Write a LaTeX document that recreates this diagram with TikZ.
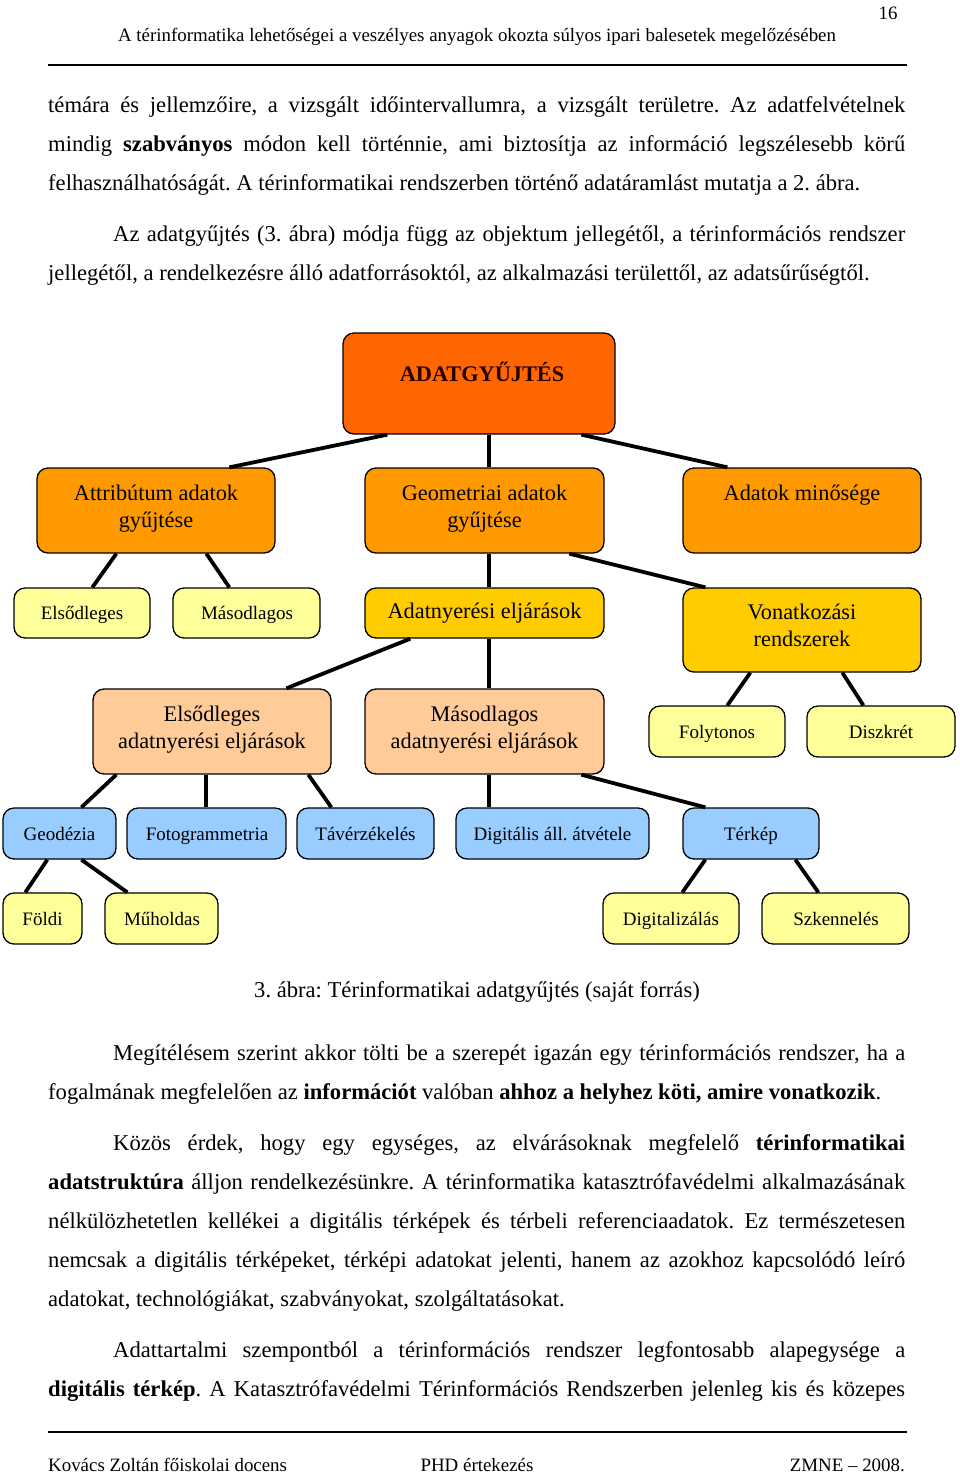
\documentclass[tikz,border=0pt]{standalone}
\usepackage{fontspec}
\setmainfont{Liberation Serif}
\usetikzlibrary{calc}
\definecolor{cTop}{HTML}{FF6600}
\definecolor{cOr}{HTML}{FF9900}
\definecolor{cLy}{HTML}{FFFF99}
\definecolor{cGo}{HTML}{FFCC00}
\definecolor{cPe}{HTML}{FFCC99}
\definecolor{cBl}{HTML}{99CCFF}
\newcommand\jfull[1]{\makebox[857pt][s]{#1}}
\newcommand\jind[1]{\makebox[792pt][s]{#1}}
\frenchspacing
\begin{document}
\begin{tikzpicture}[x=1pt,y=-1pt,
  box/.style={draw=black, line width=1.3pt, rounded corners=11pt, inner sep=0pt},
  conn/.style={line width=3.8pt},
  bt/.style={font=\fontsize{22.3}{27}\selectfont, align=center, anchor=base, inner sep=0pt},
  st/.style={font=\fontsize{19}{23}\selectfont, anchor=base, inner sep=0pt},
  body/.style={font=\fontsize{22.6}{27}\selectfont, anchor=base west, inner sep=0pt},
  hf/.style={font=\fontsize{18.9}{23}\selectfont, inner sep=0pt}]
\useasboundingbox[fill=white] (0,0) rectangle (960,1473);

% header
\node[hf, anchor=base] (pnum) at (888,19) {16};
\node[hf, anchor=base] (head) at (477,41) {A térinformatika lehetőségei a veszélyes anyagok okozta súlyos ipari balesetek megelőzésében};
\coordinate (hl1) at (48,65); \coordinate (hr1) at (907,65);
\draw[line width=1.4pt] (hl1) -- (hr1);

% body text top
\node[body] (t1) at (48,112) {\jfull{témára és jellemzőire, a vizsgált időintervallumra, a vizsgált területre. Az adatfelvételnek}};
\node[body] (t2) at (48,151) {\jfull{mindig \textbf{szabványos} módon kell történnie, ami biztosítja az információ legszélesebb körű}};
\node[body] (t3) at (48,190) {felhasználhatóságát. A térinformatikai rendszerben történő adatáramlást mutatja a 2. ábra.};
\node[body] (t4) at (113,241) {\jind{Az adatgyűjtés (3. ábra) módja függ az objektum jellegétől, a térinformációs rendszer}};
\node[body] (t5) at (48,280) {jellegétől, a rendelkezésre álló adatforrásoktól, az alkalmazási területtől, az adatsűrűségtől.};

% boxes
\node[box, fill=cTop, minimum width=272pt, minimum height=101pt] (top) at (479,383.5) {};
\node[box, fill=cOr, minimum width=238pt, minimum height=85pt] (attr) at (156,510.5) {};
\node[box, fill=cOr, minimum width=239pt, minimum height=85pt] (geom) at (484.5,510.5) {};
\node[box, fill=cOr, minimum width=238pt, minimum height=85pt] (minos) at (802,510.5) {};
\node[box, fill=cLy, minimum width=136pt, minimum height=50pt] (elso) at (82,613) {};
\node[box, fill=cLy, minimum width=147pt, minimum height=50pt] (maso) at (246.5,613) {};
\node[box, fill=cGo, minimum width=239pt, minimum height=50pt] (adatny) at (484.5,613) {};
\node[box, fill=cGo, minimum width=238pt, minimum height=84pt] (vonat) at (802,630) {};
\node[box, fill=cPe, minimum width=238pt, minimum height=85pt] (elsoadat) at (212,731.5) {};
\node[box, fill=cPe, minimum width=239pt, minimum height=85pt] (masoadat) at (484.5,731.5) {};
\node[box, fill=cLy, minimum width=136pt, minimum height=51pt] (foly) at (717,731.5) {};
\node[box, fill=cLy, minimum width=148pt, minimum height=51pt] (diszk) at (881,731.5) {};
\node[box, fill=cBl, minimum width=113pt, minimum height=51pt] (geod) at (59.5,833.5) {};
\node[box, fill=cBl, minimum width=159pt, minimum height=51pt] (foto) at (206.5,833.5) {};
\node[box, fill=cBl, minimum width=137pt, minimum height=51pt] (tav) at (365.5,833.5) {};
\node[box, fill=cBl, minimum width=193pt, minimum height=51pt] (digall) at (552.5,833.5) {};
\node[box, fill=cBl, minimum width=136pt, minimum height=51pt] (terk) at (751,833.5) {};
\node[box, fill=cLy, minimum width=79pt, minimum height=51pt] (foldi) at (42.5,918.5) {};
\node[box, fill=cLy, minimum width=113pt, minimum height=51pt] (muhold) at (161.5,918.5) {};
\node[box, fill=cLy, minimum width=136pt, minimum height=51pt] (digit) at (671,918.5) {};
\node[box, fill=cLy, minimum width=147pt, minimum height=51pt] (szken) at (835.5,918.5) {};

% box labels
\node[bt, font=\fontsize{22.3}{27}\selectfont\bfseries, text=black!85!red] (ltop) at (482,381) {ADATGYŰJTÉS};
\node[bt] (lattr) at (156,527) {Attribútum adatok\\gyűjtése};
\node[bt] (lgeom) at (484.5,527) {Geometriai adatok\\gyűjtése};
\node[bt] (lminos) at (802,500) {Adatok minősége};
\node[st] (lelso) at (82,619.5) {Elsődleges};
\node[st] (lmaso) at (247,619.5) {Másodlagos};
\node[bt] (ladatny) at (484.5,618) {Adatnyerési eljárások};
\node[bt] (lvonat) at (802,646) {Vonatkozási\\rendszerek};
\node[bt] (lelsoadat) at (212,748) {Elsődleges\\adatnyerési eljárások};
\node[bt] (lmasoadat) at (484.5,748) {Másodlagos\\adatnyerési eljárások};
\node[st] (lfoly) at (717,738.5) {Folytonos};
\node[st] (ldiszk) at (881,738.5) {Diszkrét};
\node[st] (lgeod) at (59.5,840.5) {Geodézia};
\node[st] (lfoto) at (207,840.5) {Fotogrammetria};
\node[st] (ltav) at (365.5,840.5) {Távérzékelés};
\node[st] (ldigall) at (552.5,840.5) {Digitális áll. átvétele};
\node[st] (lterk) at (751,840.5) {Térkép};
\node[st] (lfoldi) at (42.5,925.5) {Földi};
\node[st] (lmuhold) at (162,925.5) {Műholdas};
\node[st] (ldigit) at (671,925.5) {Digitalizálás};
\node[st] (lszken) at (836,925.5) {Szkennelés};

% connectors
\draw[conn] ([xshift=45pt]top.south west) -- ([xshift=193pt]attr.north west);
\draw[conn] ([xshift=147pt]top.south west) -- ([xshift=125pt]geom.north west);
\draw[conn] ([xshift=239pt]top.south west) -- ([xshift=45pt]minos.north west);
\draw[conn] ([xshift=80pt]attr.south west) -- ([xshift=79pt]elso.north west);
\draw[conn] ([xshift=170pt]attr.south west) -- ([xshift=57pt]maso.north west);
\draw[conn] ([xshift=125pt]geom.south west) -- ([xshift=125pt]adatny.north west);
\draw[conn] ([xshift=205pt]geom.south west) -- ([xshift=23pt]vonat.north west);
\draw[conn] ([xshift=46pt]adatny.south west) -- ([xshift=194pt]elsoadat.north west);
\draw[conn] ([xshift=125pt]adatny.south west) -- ([xshift=125pt]masoadat.north west);
\draw[conn] ([xshift=68pt]vonat.south west) -- ([xshift=79pt]foly.north west);
\draw[conn] ([xshift=160pt]vonat.south west) -- ([xshift=57pt]diszk.north west);
\draw[conn] ([xshift=24pt]elsoadat.south west) -- ([xshift=79pt]geod.north west);
\draw[conn] ([xshift=114pt]elsoadat.south west) -- ([xshift=80pt]foto.north west);
\draw[conn] ([xshift=216pt]elsoadat.south west) -- ([xshift=35pt]tav.north west);
\draw[conn] ([xshift=125pt]masoadat.south west) -- ([xshift=34pt]digall.north west);
\draw[conn] ([xshift=217pt]masoadat.south west) -- ([xshift=23pt]terk.north west);
\draw[conn] ([xshift=45pt]geod.south west) -- ([xshift=23pt]foldi.north west);
\draw[conn] ([xshift=79pt]geod.south west) -- ([xshift=23pt]muhold.north west);
\draw[conn] ([xshift=23pt]terk.south west) -- ([xshift=80pt]digit.north west);
\draw[conn] ([xshift=113pt]terk.south west) -- ([xshift=57pt]szken.north west);

% caption
\node[body, anchor=base] (cap) at (477,997) {3. ábra: Térinformatikai adatgyűjtés (saját forrás)};

% body text bottom
\node[body] (u1) at (113,1060) {\jind{Megítélésem szerint akkor tölti be a szerepét igazán egy térinformációs rendszer, ha a}};
\node[body] (u2) at (48,1099) {fogalmának megfelelően az \textbf{információt} valóban \textbf{ahhoz a helyhez köti, amire vonatkozik}.};
\node[body] (u3) at (113,1150) {\jind{Közös érdek, hogy egy egységes, az elvárásoknak megfelelő \textbf{térinformatikai}}};
\node[body] (u4) at (48,1189) {\jfull{\textbf{adatstruktúra} álljon rendelkezésünkre. A térinformatika katasztrófavédelmi alkalmazásának}};
\node[body] (u5) at (48,1228) {\jfull{nélkülözhetetlen kellékei a digitális térképek és térbeli referenciaadatok. Ez természetesen}};
\node[body] (u6) at (48,1267) {\jfull{nemcsak a digitális térképeket, térképi adatokat jelenti, hanem az azokhoz kapcsolódó leíró}};
\node[body] (u7) at (48,1306) {adatokat, technológiákat, szabványokat, szolgáltatásokat.};
\node[body] (u8) at (113,1357) {\jind{Adattartalmi szempontból a térinformációs rendszer legfontosabb alapegysége a}};
\node[body] (u9) at (48,1396) {\jfull{\textbf{digitális térkép}. A Katasztrófavédelmi Térinformációs Rendszerben jelenleg kis és közepes}};

% footer
\coordinate (fl1) at (48,1432); \coordinate (fr1) at (907,1432);
\draw[line width=1.4pt] (fl1) -- (fr1);
\node[hf, anchor=base west] (f1) at (48,1471) {Kovács Zoltán főiskolai docens};
\node[hf, anchor=base] (f2) at (477,1471) {PHD értekezés};
\node[hf, anchor=base east] (f3) at (905,1471) {ZMNE – 2008.};
\end{tikzpicture}
\end{document}
